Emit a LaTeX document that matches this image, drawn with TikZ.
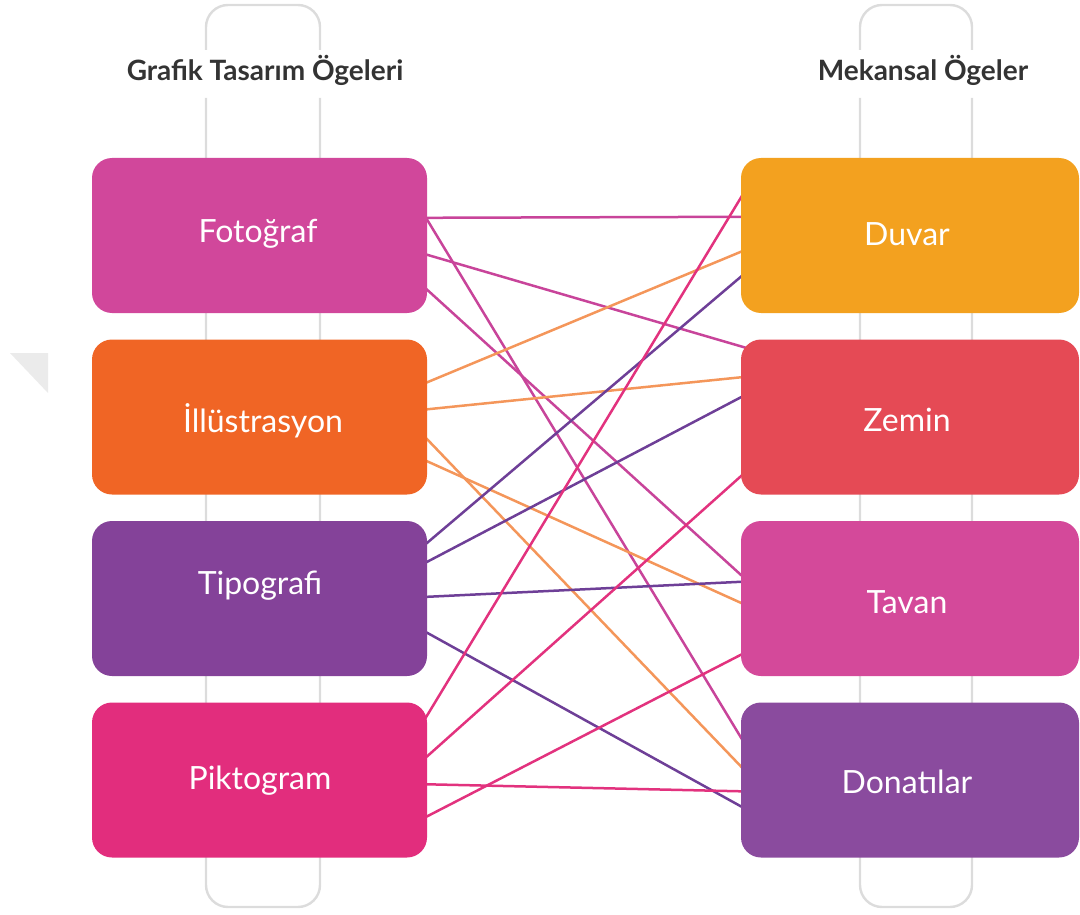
\documentclass[tikz,border=0pt]{standalone}
\usepackage{fontspec}
\setmainfont{Lato}
\usetikzlibrary{calc}
\pgfdeclarelayer{back}
\pgfsetlayers{back,main}

% box fills
\definecolor{cFoto}{HTML}{D1479B}
\definecolor{cIllu}{HTML}{F06525}
\definecolor{cTipo}{HTML}{844299}
\definecolor{cPikt}{HTML}{E22D7D}
\definecolor{cDuvar}{HTML}{F3A11F}
\definecolor{cZemin}{HTML}{E54A55}
\definecolor{cTavan}{HTML}{D4499A}
\definecolor{cDonat}{HTML}{8A4B9E}
% connector colours
\definecolor{lFoto}{HTML}{C8449A}
\definecolor{lIllu}{HTML}{F4965A}
\definecolor{lTipo}{HTML}{6E3F97}
\definecolor{lPikt}{HTML}{E2327E}
% frame and headings
\definecolor{barGray}{HTML}{DCDCDC}
\definecolor{titleGray}{HTML}{333333}
\definecolor{markGray}{HTML}{EBEBEB}

% connector from a left box (offset below its top) to a right box (offset below its top)
\newcommand\linkpair[5]{%
  \draw[link,#1] ([yshift=-#3pt]#2.north east) -- ([yshift=-#5pt]#4.north west);}

\begin{document}
\begin{tikzpicture}[x=1pt,y=-1pt,
  box/.style={rectangle, rounded corners=20pt, minimum width=335pt,
    minimum height=155pt, inner sep=0pt},
  rbox/.style={box, minimum width=338pt},
  boxtext/.style={text=white, inner sep=0pt, anchor=base,
    font=\fontsize{32}{36}\selectfont},
  heading/.style={text=titleGray, font=\bfseries\fontsize{28}{32}\selectfont,
    inner sep=0pt, anchor=base},
  bar/.style={draw=barGray, line width=2.4pt, rounded corners=22pt},
  link/.style={line width=2.5pt, shorten <=-12pt, shorten >=-12pt}]

\useasboundingbox (0,0) rectangle (1080,915);

% boxes
\node[box, fill=cFoto] (foto) at (259.5,235.5) {};
\node[box, fill=cIllu] (illu) at (259.5,417) {};
\node[box, fill=cTipo] (tipo) at (259.5,598.5) {};
\node[box, fill=cPikt] (pikt) at (259.5,780) {};

\node[rbox, fill=cDuvar] (duvar) at (910,235.5) {};
\node[rbox, fill=cZemin] (zemin) at (910,417) {};
\node[rbox, fill=cTavan] (tavan) at (910,598.5) {};
\node[rbox, fill=cDonat] (donat) at (910,780) {};

% box labels
\node[boxtext] (tfoto) at (258,243) {Fotoğraf};
\node[boxtext] (tillu) at (263,432) {İllüstrasyon};
\node[boxtext] (ttipo) at (260,594) {Tipografi};
\node[boxtext] (tpikt) at (260,789) {Piktogram};
\node[boxtext] (tduvar) at (907,246) {Duvar};
\node[boxtext] (tzemin) at (907,431) {Zemin};
\node[boxtext] (ttavan) at (907,613) {Tavan};
\node[boxtext] (tdonat) at (907,793) {Donatılar};

% column headings
\node[heading] (hleft) at (265,81) {Grafik Tasarım Ögeleri};
\node[heading] (hright) at (923,81) {Mekansal Ögeler};

\begin{pgfonlayer}{back}
  % column frames, open around the headings
  \draw[bar] (206,50) -- (206,5) -- (320,5) -- (320,50);
  \draw[bar] (206,98) -- (206,907) -- (320,907) -- (320,98);
  \draw[bar] (860,50) -- (860,5) -- (972,5) -- (972,50);
  \draw[bar] (860,98) -- (860,907) -- (972,907) -- (972,98);

  % small corner mark at the left
  \fill[markGray] (10,353) -- (48,353) -- (48,393) -- cycle;

  % Fotoğraf
  \linkpair{lFoto}{foto}{60}{duvar}{59}
  \linkpair{lFoto}{foto}{62}{donat}{35}
  \linkpair{lFoto}{foto}{97}{zemin}{7}
  \linkpair{lFoto}{foto}{132}{tavan}{54}
  % İllüstrasyon
  \linkpair{lIllu}{illu}{43}{duvar}{94}
  \linkpair{lIllu}{illu}{70}{zemin}{38}
  \linkpair{lIllu}{illu}{100}{donat}{64}
  \linkpair{lIllu}{illu}{122}{tavan}{82}
  % Tipografi
  \linkpair{lTipo}{tipo}{22}{duvar}{119}
  \linkpair{lTipo}{tipo}{41}{zemin}{58}
  \linkpair{lTipo}{tipo}{76}{tavan}{61}
  \linkpair{lTipo}{tipo}{112}{donat}{104}
  % Piktogram
  \linkpair{lPikt}{pikt}{13}{duvar}{40}
  \linkpair{lPikt}{pikt}{54}{zemin}{137}
  \linkpair{lPikt}{pikt}{82}{donat}{89}
  \linkpair{lPikt}{pikt}{114}{tavan}{134}
\end{pgfonlayer}
\end{tikzpicture}
\end{document}
